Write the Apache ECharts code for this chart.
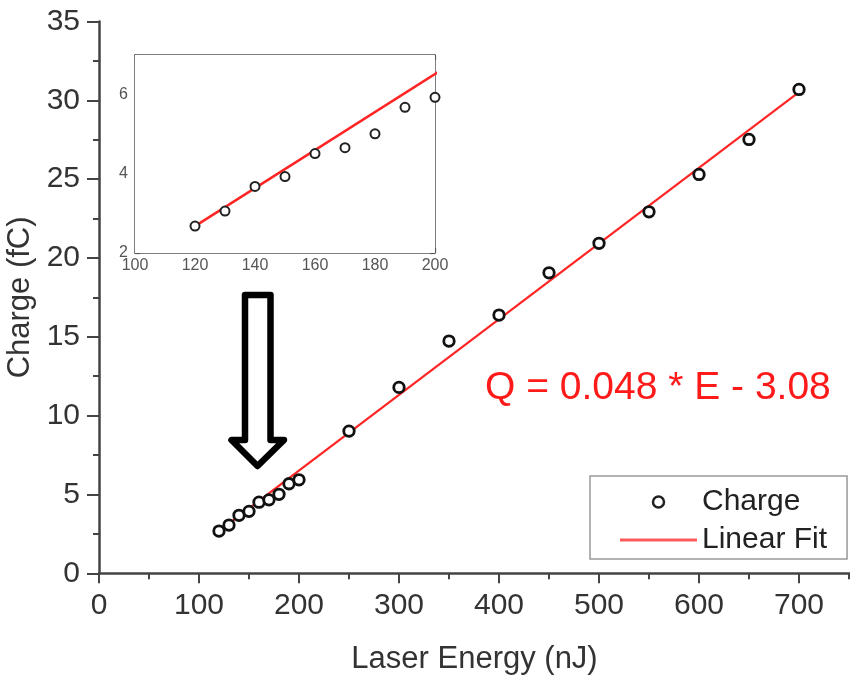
<!DOCTYPE html>
<html>
<head>
<meta charset="utf-8">
<script src="https://cdn.jsdelivr.net/npm/echarts@6/dist/echarts.min.js"></script>
<style>
html,body{margin:0;padding:0;background:#fff;}
#chart{width:850px;height:677px;}
</style>
</head>
<body>
<div id="chart"></div>
<script>
// ---- data ----
const energy = [120,130,140,150,160,170,180,190,200,250,300,350,400,450,500,550,600,650,700];
const charge = [2.68,3.06,3.68,3.93,4.51,4.66,5.01,5.68,5.93,9.02,11.79,14.73,16.38,19.06,20.93,22.93,25.30,27.52,30.69];
const fitEnergy = [120, 700];
const fitCharge = [2.68, 30.52];
const equationText = 'Q = 0.048 * E - 3.08';
const xTitle = 'Laser Energy (nJ)';
const yTitle = 'Charge (fC)';

const FONT = '"Liberation Sans", Arial, Helvetica, sans-serif';
const pts = energy.map((e, i) => [e, charge[i]]);
const fitPts = fitEnergy.map((e, i) => [e, fitCharge[i]]);

const chart = echarts.init(document.getElementById('chart'), null, {renderer: 'canvas'});

const mainAxisLine = {show: true, lineStyle: {color: '#444', width: 2.5}};
const insetAxisLine = {show: true, lineStyle: {color: '#555', width: 1.5}};

const option = {
  backgroundColor: '#fff',
  textStyle: {fontFamily: FONT},
  animation: false,
  grid: [
    {left: 99, top: 21.5, width: 800, height: 551.8, containLabel: false, outerBoundsMode: 'none'},
    {left: 135, top: 55, width: 300, height: 198, show: true, backgroundColor: '#fff', borderWidth: 0, z: 5, containLabel: false, outerBoundsMode: 'none'}
  ],
  legend: {
    orient: 'vertical',
    left: 590, top: 476,
    padding: [11, 20, 4, 30],
    itemWidth: 77, itemHeight: 11, itemGap: 8,
    borderColor: '#999', borderWidth: 1.5,
    backgroundColor: '#fff',
    data: [
      {name: 'Charge', icon: 'circle', itemStyle: {color: '#fff', borderColor: '#222', borderWidth: 2.5}},
      {name: 'Linear Fit', icon: 'path://M0,0L77,0L77,3L0,3Z', itemStyle: {color: '#ff5a5a', borderWidth: 0}}
    ],
    textStyle: {fontSize: 30, color: '#222', fontFamily: FONT},
    selectedMode: false
  },
  xAxis: [
    {
      type: 'value', gridIndex: 0, min: 0, max: 800, interval: 100,
      axisLine: mainAxisLine,
      axisTick: {show: true, inside: false, length: 10, lineStyle: {color: '#444', width: 2}},
      minorTick: {show: true, splitNumber: 2, length: 6, lineStyle: {color: '#444', width: 2}},
      splitLine: {show: false},
      axisLabel: {fontSize: 30, color: '#333', margin: 17, fontFamily: FONT},
      name: xTitle, nameLocation: 'middle', nameGap: 71,
      nameTextStyle: {fontSize: 31, color: '#333', fontFamily: FONT, padding: [0, 49, 0, 0]}
    },
    {
      type: 'value', gridIndex: 1, min: 100, max: 200, interval: 20, position: 'bottom',
      axisLine: insetAxisLine,
      axisTick: {show: true, inside: true, length: 5, lineStyle: {color: '#555', width: 1.2}},
      minorTick: {show: true, splitNumber: 2, length: 3, lineStyle: {color: '#555', width: 1}},
      splitLine: {show: false},
      axisLabel: {fontSize: 16, color: '#555', margin: 5, fontFamily: FONT}
    },
    {
      type: 'value', gridIndex: 1, min: 100, max: 200, interval: 20, position: 'top',
      axisLine: insetAxisLine,
      axisTick: {show: true, inside: true, length: 5, lineStyle: {color: '#555', width: 1.2}},
      minorTick: {show: true, splitNumber: 2, length: 3, lineStyle: {color: '#555', width: 1}},
      splitLine: {show: false},
      axisLabel: {show: false}
    }
  ],
  yAxis: [
    {
      type: 'value', gridIndex: 0, min: 0, max: 35, interval: 5,
      axisLine: mainAxisLine,
      axisTick: {show: true, inside: false, length: 12, lineStyle: {color: '#444', width: 2}},
      minorTick: {show: true, splitNumber: 2, length: 6, lineStyle: {color: '#444', width: 2}},
      splitLine: {show: false},
      axisLabel: {fontSize: 30, color: '#333', margin: 19, fontFamily: FONT},
      name: yTitle, nameLocation: 'middle', nameGap: 55,
      nameTextStyle: {fontSize: 31, color: '#333', fontFamily: FONT}
    },
    {
      type: 'value', gridIndex: 1, min: 2, max: 7, interval: 1, position: 'left',
      axisLine: insetAxisLine,
      axisTick: {show: true, inside: true, length: 5, lineStyle: {color: '#555', width: 1.2}},
      splitLine: {show: false},
      axisLabel: {fontSize: 16, color: '#555', margin: 7, fontFamily: FONT,
        formatter: v => (v % 2 === 0 ? String(v) : '')}
    },
    {
      type: 'value', gridIndex: 1, min: 2, max: 7, interval: 1, position: 'right',
      axisLine: insetAxisLine,
      axisTick: {show: true, inside: true, length: 5, lineStyle: {color: '#555', width: 1.2}},
      splitLine: {show: false},
      axisLabel: {show: false}
    }
  ],
  series: [
    {
      name: 'Charge', type: 'scatter', xAxisIndex: 0, yAxisIndex: 0,
      data: pts, symbol: 'circle', symbolSize: 10.5,
      itemStyle: {color: '#fff', borderColor: '#111', borderWidth: 2.8, opacity: 1}, z: 3
    },
    {
      name: 'Linear Fit', type: 'line', xAxisIndex: 0, yAxisIndex: 0,
      data: fitPts, symbol: 'none', showSymbol: false,
      lineStyle: {color: '#ff2525', width: 2.2}, itemStyle: {color: '#ff2525'}, z: 2
    },
    {
      name: 'Charge', type: 'scatter', xAxisIndex: 1, yAxisIndex: 1,
      data: pts, symbol: 'circle', symbolSize: 9, clip: true,
      itemStyle: {color: '#fff', borderColor: '#222', borderWidth: 2, opacity: 1}, z: 7
    },
    {
      name: 'Linear Fit', type: 'line', xAxisIndex: 1, yAxisIndex: 1,
      data: fitPts, symbol: 'none', showSymbol: false, clip: true,
      lineStyle: {color: '#ff2525', width: 2.5}, z: 6
    }
  ],
  graphic: [
    {
      type: 'text', x: 485, y: 388, z: 10,
      style: {text: equationText, fontSize: 39, fontFamily: FONT, fill: '#ff1a1a',
        align: 'left', verticalAlign: 'middle'}
    },
    {
      type: 'polygon', z: 10,
      shape: {points: [[245, 295], [270.5, 295], [270.5, 440], [284, 440], [257.5, 466], [231.5, 440], [245, 440]]},
      style: {fill: '#fff', stroke: '#000', lineWidth: 6.5, lineJoin: 'round'}
    }
  ]
};

chart.setOption(option);
</script>
</body>
</html>
